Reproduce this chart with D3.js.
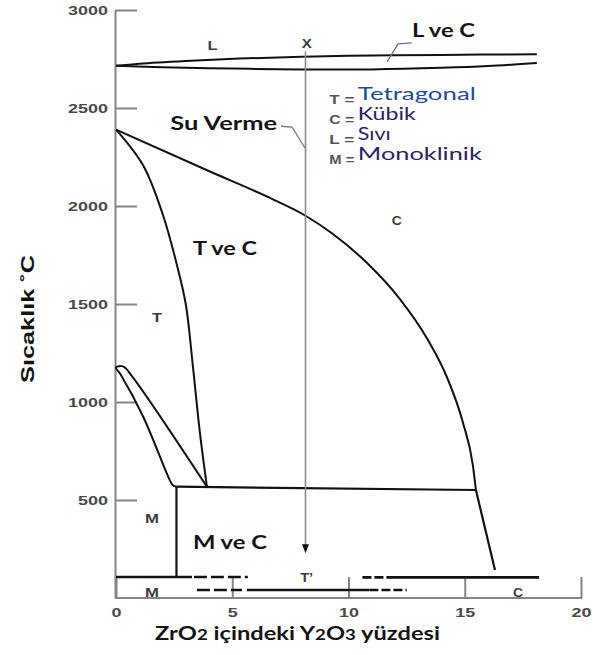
<!DOCTYPE html>
<html><head><meta charset="utf-8">
<script src="https://cdn.jsdelivr.net/npm/d3@7"></script>
<style>body{margin:0;background:#fff}</style>
</head><body><svg id="c" width="593" height="655"></svg>
<script>
// ---- data (x: % Y2O3 in ZrO2, y: temperature °C) ----
const xTicks = [0, 5, 10, 15, 20];
const yTicks = [500, 1000, 1500, 2000, 2500, 3000];
const liquidusUpper = [[0,2715],[1,2726],[3,2740],[5.3,2752],[8,2762],[11,2768],[14,2771],[18.1,2774]];
const liquidusLower = [[0,2715],[2,2708],[5,2701],[8,2697],[11,2697],[14,2705],[16,2714],[18.1,2730]];
const tBoundary = [[0,2390],[1.16,2209],[2.02,1954],[2.62,1699],[3.0,1500],[3.31,1179],[3.61,842],[3.91,568]];
const cBoundary = [[0,2390],[4.04,2176],[6.62,2041],[8.17,1949],[9.33,1857],[10.8,1709],[12.22,1524],[13.38,1324],[14.24,1125],[14.92,896],[15.35,677],[15.48,551]];
const eutectoid = [[2.6,568],[15.48,551]];
const cLow = [[15.48,551],[16.3,143]];
const mBoundary = [[2.6,568],[2.6,107]];
const lens = [[2.6,568],[2.45,575],[2.32,600],[1.17,925],[0.2,1140],[0,1176],[0.3,1182],[0.7,1130],[3.91,568]];
// metastable lines near room temperature
const lowSegments = [
  {x0:0, x1:3.27, t:107, kind:"solid"},
  {x0:3.35, x1:5.67, t:107, kind:"dash"},
  {x0:10.6, x1:12.0, t:105, kind:"dash2"},
  {x0:12.0, x1:18.2, t:105, kind:"solid"},
  {x0:3.48, x1:5.42, t:41, kind:"dash"},
  {x0:5.63, x1:10.9, t:41, kind:"solid"},
  {x0:10.9, x1:12.5, t:41, kind:"dash2"}
];
const quenchX = 8.15, quenchTop = 2790, quenchBottom = 228;
const legendKeys = ["T =", "C =", "L =", "M ="];
const legendNames = ["Tetragonal", "Kübik", "Sıvı", "Monoklinik"];
const regionLabels = [
  {text:"L", x:4.15, t:2796},
  {text:"X", x:8.2, t:2806},
  {text:"C", x:12.08, t:1903},
  {text:"T", x:1.76, t:1408},
  {text:"M", x:1.55, t:383},
  {text:"M", x:1.55, t:5},
  {text:"T\u2019", x:8.2, t:82},
  {text:"C", x:17.29, t:5}
];
const boldLabels = [
  {text:"Su Verme", x:2.33, t:2390, w:107},
  {text:"T ve C", x:3.31, t:1750, w:64},
  {text:"M ve C", x:3.31, t:250, w:74},
  {text:"L ve C", x:12.73, t:2862, w:63}
];
const suVermeLeader = [[7.1,2407],[7.57,2403],[8.13,2296]];
const lveCLeader = [[12.73,2832],[12.13,2827],[11.66,2735]];

// ---- drawing ----
const svg = d3.select("#c");
const x = d3.scaleLinear().domain([0,20]).range([116,581]);
const y = d3.scaleLinear().domain([0,3000]).range([598,10]);
const straight = d3.line().x(d=>x(d[0])).y(d=>y(d[1]));
const smooth = d3.line().curve(d3.curveCatmullRom.alpha(0.5)).x(d=>x(d[0])).y(d=>y(d[1]));
const mono = d3.line().curve(d3.curveMonotoneX).x(d=>x(d[0])).y(d=>y(d[1]));

// axes
const axisColor = "#858585";
const gy = svg.append("g").attr("transform",`translate(${x(0)-1},0)`)
  .call(d3.axisLeft(y).tickValues(yTicks).tickFormat(d3.format("d")).tickSizeInner(-22).tickSizeOuter(0).tickPadding(7));
const gx = svg.append("g").attr("transform",`translate(0,${y(0)})`)
  .call(d3.axisBottom(x).tickValues(xTicks).tickFormat(d3.format("d")).tickSizeInner(-21).tickSizeOuter(0).tickPadding(10));
[gy,gx].forEach(g=>{
  g.select(".domain").attr("stroke",axisColor).attr("stroke-width",2);
  g.selectAll(".tick line").attr("stroke",axisColor).attr("stroke-width",2);
  g.selectAll(".tick text").attr("font-family","Liberation Sans, Arial, sans-serif")
   .attr("font-size",13).attr("font-weight","bold").attr("fill","#4a4a4a")
   .each(function(){ const s=d3.select(this).text(); d3.select(this).attr("textLength",s.length*10).attr("lengthAdjust","spacingAndGlyphs"); });
});
gx.select(".domain").attr("d",`M${x(0)-1},0H${x(20)+1}`);

// liquidus / solidus
[liquidusUpper, liquidusLower].forEach(d=>svg.append("path").attr("d",smooth(d)).attr("fill","none").attr("stroke","#111").attr("stroke-width",2));
// phase boundaries
[tBoundary, lens].forEach(d=>svg.append("path").attr("d",smooth(d)).attr("fill","none").attr("stroke","#111").attr("stroke-width",2));
svg.append("path").attr("d",mono(cBoundary)).attr("fill","none").attr("stroke","#111").attr("stroke-width",2);
[eutectoid, cLow, mBoundary].forEach(d=>svg.append("path").attr("d",straight(d)).attr("fill","none").attr("stroke","#111").attr("stroke-width",2.2));

// low temperature segments
svg.selectAll("line.low").data(lowSegments).join("line").attr("class","low")
  .attr("x1",d=>x(d.x0)).attr("x2",d=>x(d.x1)).attr("y1",d=>y(d.t)).attr("y2",d=>y(d.t))
  .attr("stroke","#111").attr("stroke-width",2.6)
  .attr("stroke-dasharray",d=>d.kind==="dash"?"13,4":d.kind==="dash2"?"9,3":null);

// quench arrow
svg.append("line").attr("x1",x(quenchX)).attr("x2",x(quenchX)).attr("y1",y(quenchTop)).attr("y2",y(quenchBottom)-6)
  .attr("stroke","#8a8a8a").attr("stroke-width",1.6);
const ax0=x(quenchX), ay0=y(quenchBottom);
svg.append("path").attr("d",`M${ax0},${ay0}L${ax0-3.5},${ay0-9}L${ax0+3.5},${ay0-9}Z`).attr("fill","#111");

// leaders
[suVermeLeader, lveCLeader].forEach(d=>svg.append("path").attr("d",straight(d)).attr("fill","none").attr("stroke","#777").attr("stroke-width",1.3));

// region letters
svg.selectAll("text.reg").data(regionLabels).join("text").attr("class","reg")
  .attr("x",d=>x(d.x)).attr("y",d=>y(d.t)).attr("text-anchor","middle")
  .attr("font-family","Liberation Sans, Arial, sans-serif").attr("font-size",13).attr("font-weight","bold")
  .attr("fill","#3d3d3d")
  .attr("textLength",d=>d.text.length>1?13:(d.text==="M"?14:10)).attr("lengthAdjust","spacingAndGlyphs")
  .text(d=>d.text);

// bold labels
svg.selectAll("text.bl").data(boldLabels).join("text").attr("class","bl")
  .attr("x",d=>x(d.x)).attr("y",d=>y(d.t))
  .attr("font-family","Lato, 'Open Sans', sans-serif").attr("font-size",18).attr("font-weight","bold")
  .attr("fill","#141414").attr("textLength",d=>d.w).attr("lengthAdjust","spacingAndGlyphs")
  .text(d=>d.text);

// legend
const legY0 = y(2540), legStep = 20;
legendKeys.forEach((k,i)=>{
  svg.append("text").attr("x",x(10.25)).attr("y",legY0+4+i*legStep).attr("text-anchor","end")
    .attr("font-family","Liberation Sans, Arial, sans-serif").attr("font-size",12).attr("font-weight","bold")
    .attr("fill","#555").attr("textLength",25).attr("lengthAdjust","spacingAndGlyphs").text(k);
});
const legW = [118, 58, 33, 124];
legendNames.forEach((n,i)=>{
  svg.append("text").attr("x",x(10.4)).attr("y",legY0+i*legStep)
    .attr("font-family","Lato, 'Open Sans', sans-serif").attr("font-size",18)
    .attr("fill", i===0?"#1f4d9a":"#2c2361")
    .attr("textLength",legW[i]).attr("lengthAdjust","spacingAndGlyphs").text(n);
});

// axis titles
const xt = svg.append("text").attr("x",155).attr("y",640)
  .attr("font-family","Lato, 'Open Sans', sans-serif").attr("font-size",19).attr("font-weight","bold")
  .attr("fill","#141414").attr("textLength",285).attr("lengthAdjust","spacingAndGlyphs");
xt.append("tspan").text("ZrO");
xt.append("tspan").attr("font-size",15).text("2");
xt.append("tspan").text(" içindeki Y");
xt.append("tspan").attr("font-size",15).text("2");
xt.append("tspan").text("O");
xt.append("tspan").attr("font-size",15).text("3");
xt.append("tspan").text(" yüzdesi");

svg.append("text").attr("transform","translate(34,319) rotate(-90)").attr("text-anchor","middle")
  .attr("font-family","Liberation Sans, Arial, sans-serif").attr("font-size",19).attr("font-weight","bold")
  .attr("fill","#141414").attr("textLength",128).attr("lengthAdjust","spacingAndGlyphs")
  .text("Sıcaklık ˚C");
</script>
</body></html>
